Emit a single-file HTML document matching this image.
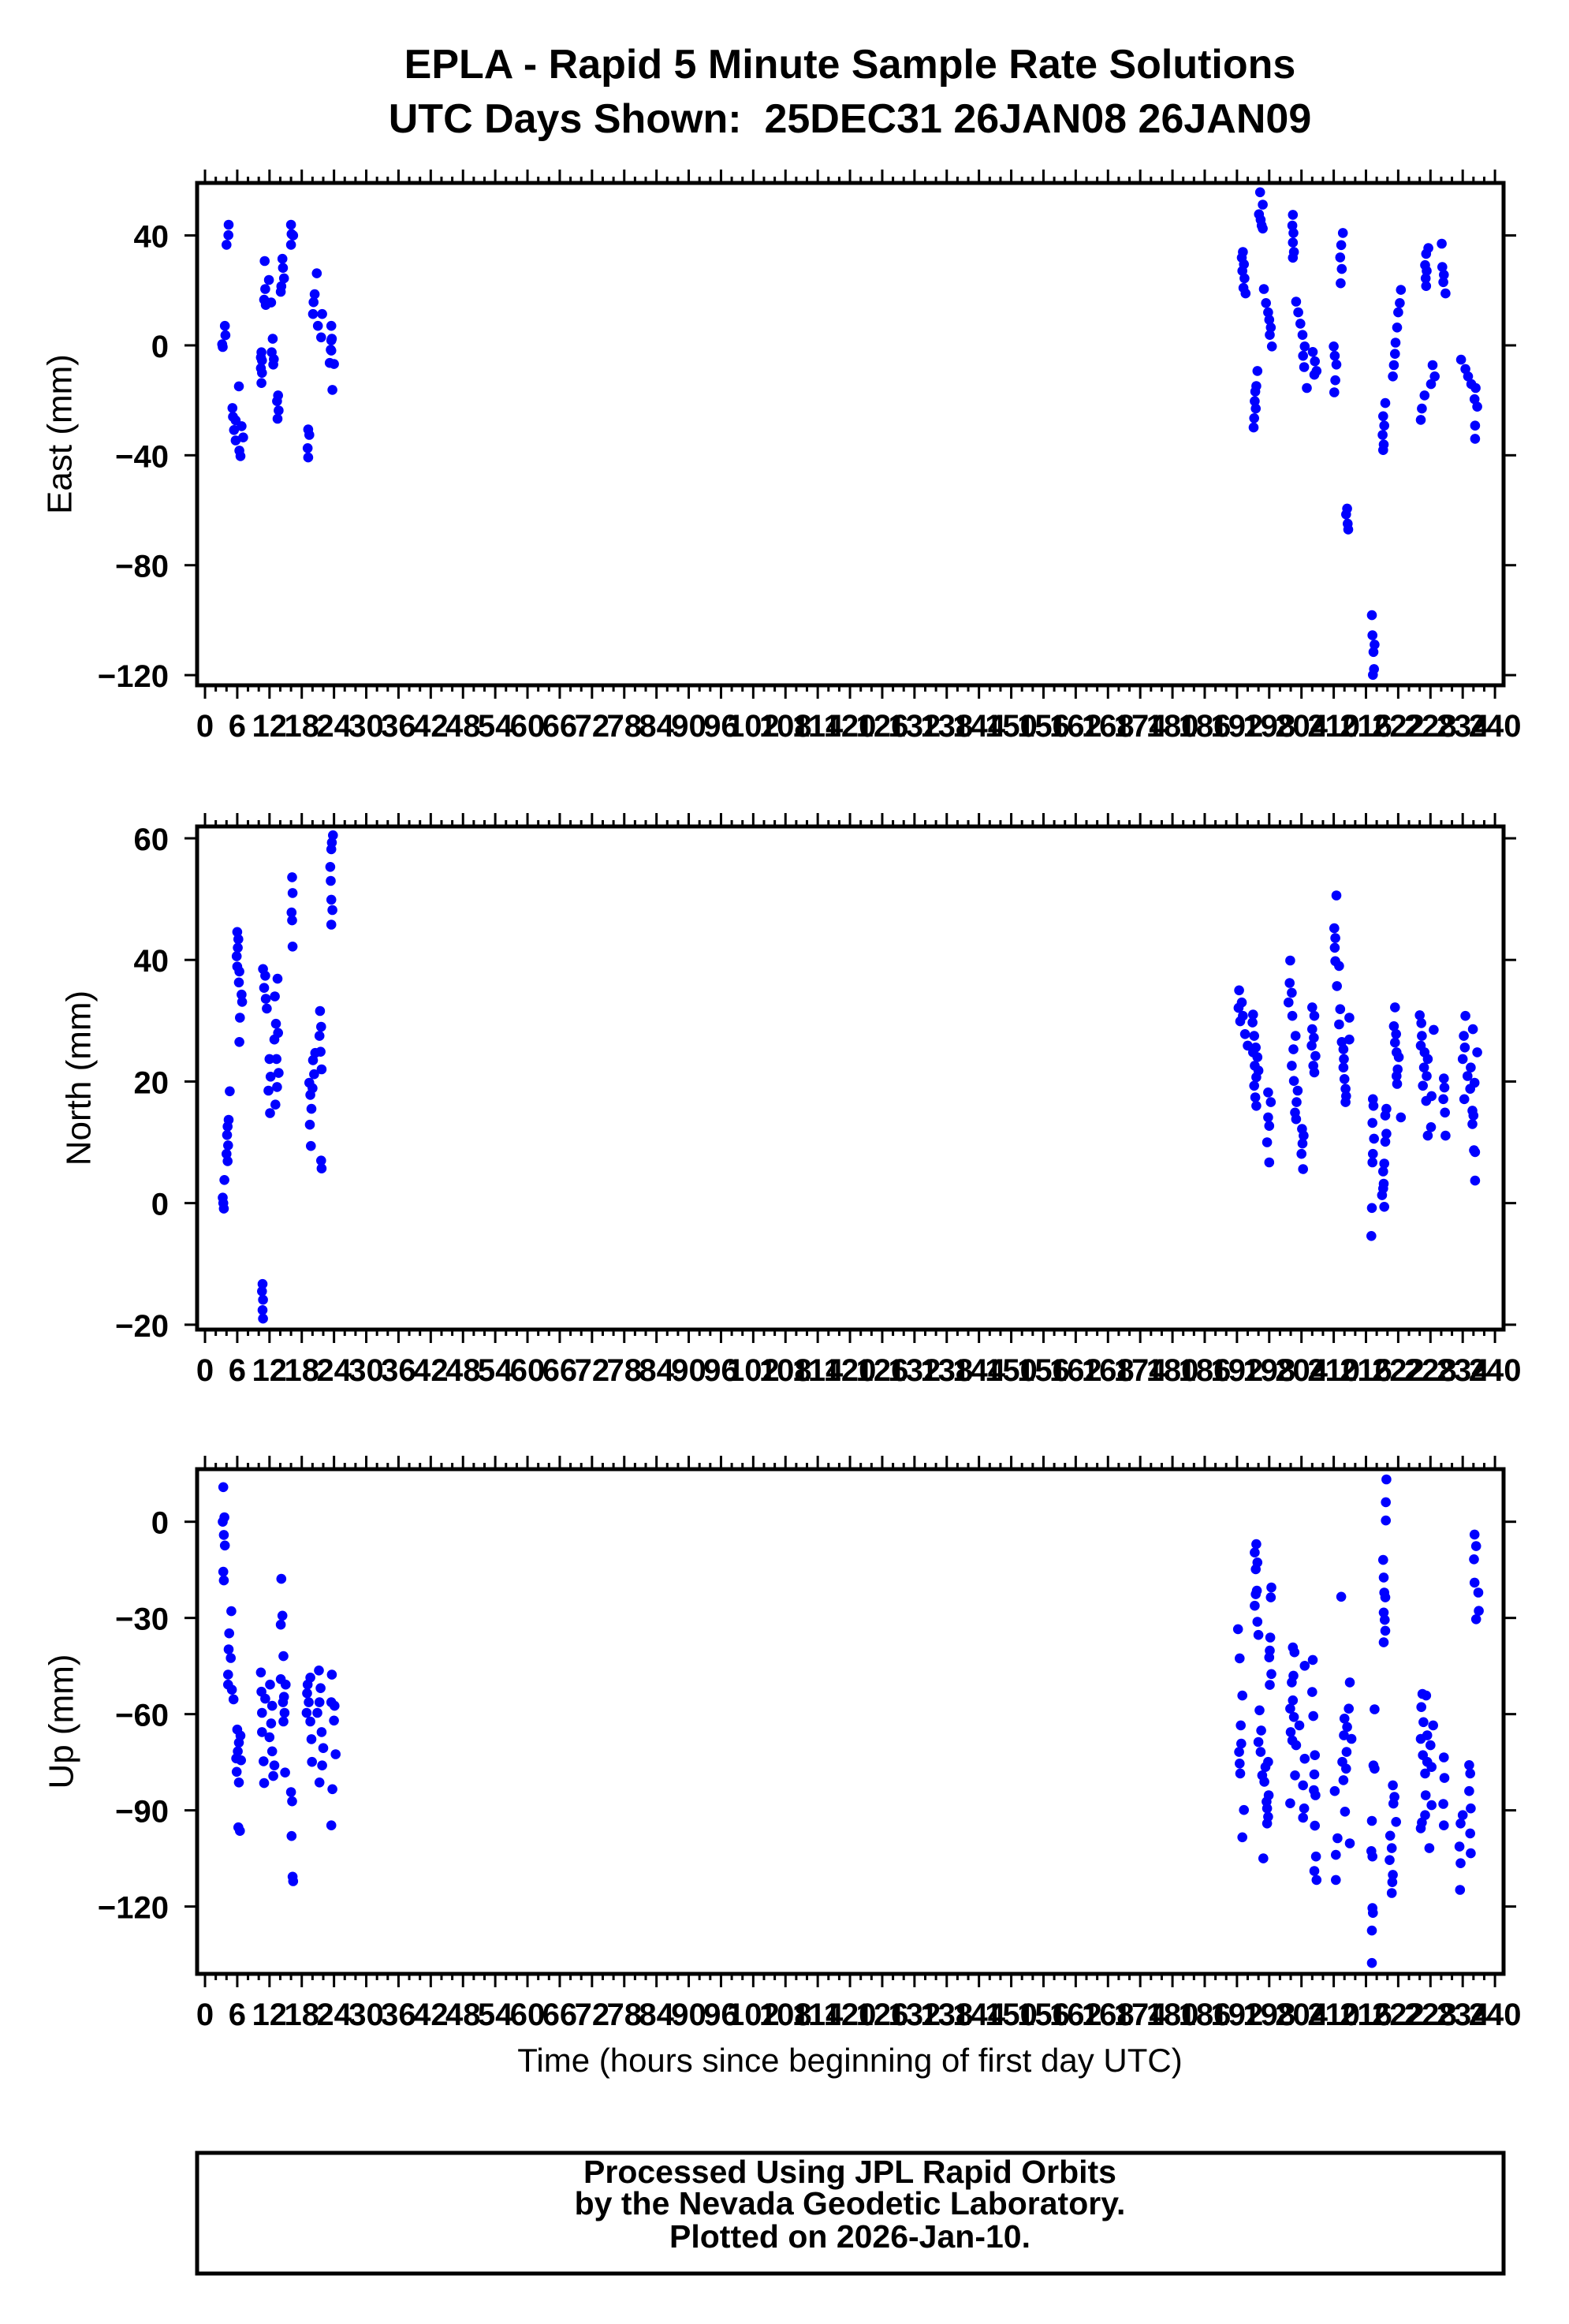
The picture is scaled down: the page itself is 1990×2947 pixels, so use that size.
<!DOCTYPE html>
<html><head><meta charset="utf-8"><title>EPLA Rapid 5 Minute Solutions</title>
<style>html,body{margin:0;padding:0;background:#fff}svg{display:block}text{font-family:"Liberation Sans",Arial,sans-serif}</style>
</head><body>
<svg id="chart" width="1990" height="2947" viewBox="0 0 1990 2947" xmlns="http://www.w3.org/2000/svg">
<rect width="1990" height="2947" fill="#fff"/>
<text x="1078" y="99" font-size="52" font-weight="bold" text-anchor="middle">EPLA - Rapid 5 Minute Sample Rate Solutions</text>
<text x="1078" y="168" font-size="52" font-weight="bold" text-anchor="middle" xml:space="preserve">UTC Days Shown:  25DEC31 26JAN08 26JAN09</text>
<text x="1078" y="2627" font-size="42" text-anchor="middle">Time (hours since beginning of first day UTC)</text>
<rect x="250" y="2730" width="1657" height="153" fill="none" stroke="#000" stroke-width="5"/>
<text x="1078" y="2768" font-size="41" font-weight="bold" text-anchor="middle">Processed Using JPL Rapid Orbits</text>
<text x="1078" y="2808" font-size="41" font-weight="bold" text-anchor="middle">by the Nevada Geodetic Laboratory.</text>
<text x="1078" y="2850" font-size="41" font-weight="bold" text-anchor="middle">Plotted on 2026-Jan-10.</text>
</svg>
<script>
// ---------- DATA ----------
const eastHours = [
4.4,4.35,4.0,3.7,3.8,3.3,3.2,
11.1,11.9,11.2,11.0,11.3,12.3,
14.4,14.5,14.7,14.1,14.2,
16.0,16.1,16.4,16.0,
20.8,20.4,20.2,20.1,21.8,21.0,21.6,23.5,23.6,23.5,24.0,
10.5,10.6,10.4,12.6,12.4,12.7,
6.3,5.1,5.2,5.7,5.4,6.8,7.1,5.7,6.4,6.6,
10.5,10.6,10.4,12.8,
13.6,13.4,13.7,13.5,
19.2,19.4,19.1,19.2,
23.7,23.2,23.4,23.5,
193.1,192.9,193.3,193.0,193.4,193.2,193.6,
196.3,196.8,196.1,196.4,196.6,196.8,
195.8,195.6,195.4,195.3,195.5,195.2,195.1,
197.0,197.4,197.8,198.0,198.3,198.1,198.5,
202.4,202.3,202.5,202.4,202.6,202.4,
203.0,203.4,203.8,204.2,204.6,204.3,204.5,205.0,
206.1,206.5,206.8,206.4,
210.0,210.2,210.5,210.3,210.1,
211.7,211.4,211.2,211.5,211.3,
212.5,212.3,212.6,212.7,
217.1,217.2,217.6,217.4,217.5,217.3,
219.6,219.2,219.4,219.1,219.3,219.2,
222.5,222.3,222.0,221.8,221.5,221.4,221.2,221.0,
226.9,226.4,226.2,
227.6,227.2,227.0,227.3,227.1,227.2,
228.4,228.8,228.1,
230.1,230.2,230.5,230.4,230.8,
233.7,234.5,235.0,235.6,236.4,236.2,236.7,236.3,236.3];
const eastValues = [
43.9,40.1,36.6,7.1,3.7,-0.6,0.4,
30.7,23.8,20.5,16.6,14.7,15.6,
31.5,28.2,24.4,19.5,21.5,
43.9,40.5,40,36.6,
26.2,18.6,15.7,11.4,11.4,7.1,2.9,7.1,2.4,-1.9,-6.8,
-2.5,-5.5,-8.3,2.4,-2.5,-7,
-14.9,-22.8,-26,-27.3,-30.8,-29.4,-33.5,-34.6,-38.3,-40.3,
-13.7,-10,-4.4,-5,
-18.2,-20.3,-23.7,-26.7,
-30.6,-32.6,-37.4,-40.8,
-16.2,-6.4,-1.6,1.8,
34,31.9,29.5,27.1,24.4,20.9,18.9,
55.7,51.2,47.7,45.7,43.6,42.5,
-9.3,-14.8,-16.8,-20.3,-23,-26.5,-29.9,
20.5,15.4,12,9.3,6.5,3.8,-0.4,
47.5,43.6,40.9,37.4,34,31.9,
15.9,12,7.9,3.8,-0.4,-3.8,-7.9,-15.5,
-2.4,-5.8,-9.3,-10.7,
-0.4,-3.8,-7,-12.7,-17.1,
40.9,36.5,32,27.8,22.6,
-59.4,-61.5,-64.9,-67,
-98.2,-105.5,-108.9,-111.6,-117.8,-119.9,
-21,-25.8,-29.2,-32.6,-36.1,-38.1,
20.2,15.4,12,6.5,1,-3.1,-7.2,-11.3,
-18.2,-23,-27.1,
35.4,33.3,29.2,27.1,24.4,21.6,
-7.2,-11.3,-14.1,
37,28.5,25.7,23,18.9,
-5.2,-8.6,-11.3,-14.1,-15.5,-19.6,-22.3,-29.2,-34];

const northHours = [
3.4,3.5,3.3,3.6,
4.2,4.0,4.3,4.1,4.2,4.4,4.6,
6.0,6.2,6.1,5.9,6.0,6.4,6.3,6.8,6.9,6.5,6.4,
10.7,10.6,10.8,10.7,10.8,
10.8,11.2,11.0,11.3,11.5,
12.0,12.2,11.8,12.1,
13.5,13.0,13.2,13.6,12.9,13.3,13.7,13.4,13.1,
16.2,16.3,16.1,16.2,16.3,
19.4,19.6,19.8,19.5,19.7,20.0,20.3,20.1,20.5,
21.4,21.6,21.3,21.5,21.7,21.6,21.7,
23.8,23.6,23.5,23.3,23.4,23.5,23.7,23.5,
192.4,192.9,192.3,193.1,192.6,193.5,194.0,
195.0,194.9,195.2,195.5,195.0,195.8,195.3,196.0,195.6,195.2,195.4,195.6,197.8,198.3,197.8,198.0,197.6,198.0,
201.9,201.8,202.2,201.6,202.3,202.9,202.5,202.2,202.6,203.3,203.1,202.8,203.0,
204.1,204.4,204.2,204.0,204.3,
206.0,206.4,206.0,206.3,205.9,206.6,206.2,206.4,
210.5,210.1,210.3,210.2,210.3,211.0,210.6,
211.2,212.9,211.0,212.9,211.5,211.8,211.9,211.8,212.0,212.2,212.3,212.2,
217.3,217.4,217.2,217.5,217.3,217.2,217.1,217.0,
219.8,219.6,219.8,219.6,219.4,219.2,219.3,219.2,219.0,219.4,
221.4,221.2,221.6,221.4,221.7,222.1,221.9,221.7,221.8,222.5,
226.0,226.3,228.6,226.4,226.2,226.9,227.5,226.8,227.3,226.6,228.2,227.2,228.1,227.5,
230.5,230.6,230.4,230.7,230.8,
234.5,235.9,234.2,234.4,236.7,234.0,235.5,234.9,236.2,235.4,234.3,235.8,236.0,235.8,236.1,236.3,236.3];
const northValues = [
0,-0.9,0.9,3.8,
6.9,8.1,9.5,11.2,12.6,13.7,18.4,
44.6,43.4,42,40.6,38.9,38.1,36.3,34.3,33.1,30.5,26.5,
-13.3,-14.5,-15.9,-17.6,-19,
38.5,37.4,35.4,33.6,32,
23.7,20.8,18.5,14.8,
36.9,34,29.5,28,26.9,23.7,21.4,19.1,16.2,
53.6,51,47.8,46.5,42.2,
19.8,17.8,15.5,12.9,9.4,18.9,21.2,23.5,24.7,
31.6,29,27.5,24.9,22,7,5.7,
60.5,59.3,58.2,55.3,53,49.9,48.2,45.8,
35,33,32.1,30.8,29.9,27.8,25.9,
31,29.7,27.5,25.6,24.8,24,22.6,21.8,20.7,19.3,17.4,16,18.2,16.6,14.1,12.7,10,6.7,
39.9,36.2,34.6,33,30.8,27.5,25.3,22.6,20.1,18.5,16.6,14.9,13.8,
12.2,11.1,9.8,8.1,5.6,
32.2,30.8,28.6,27.2,25.9,24.2,22.6,21.5,
50.6,45.2,43.6,42,39.8,39,35.7,
31.9,30.5,29.4,26.9,26.5,25.3,23.7,22.3,20.4,18.8,17.6,16.6,
17.1,16,13.2,10.6,8.1,6.7,-0.8,-5.4,
15.5,14.4,11.4,10.1,6.5,5.2,3.2,2.4,1.3,-0.6,
32.2,29.1,27.8,26.4,24.8,24,22,20.9,19.6,14.1,
30.9,29.6,28.5,27.5,25.9,24.8,23.7,22.3,20.9,19.3,17.6,16.8,12.5,11.1,
20.5,19,17.1,14.9,11.1,
30.8,28.6,27.5,25.6,24.8,23.7,22.3,20.9,19.8,18.8,17.1,15.2,14.4,13,8.7,8.4,3.7];

const upHours = [
3.4,3.6,3.3,3.5,3.7,3.4,3.5,
4.9,4.5,4.4,4.8,4.3,4.3,5.0,5.3,
6.0,6.6,6.3,6.1,5.8,6.7,5.9,6.3,6.2,6.5,
10.4,10.5,11.2,10.6,10.6,10.9,11.0,
12.1,12.5,12.3,12.0,12.5,12.9,12.7,
14.2,14.4,14.1,14.6,14.1,15.0,14.7,14.5,14.8,14.6,14.9,
16.0,16.2,16.1,16.3,16.4,
19.6,19.1,19.0,19.3,18.9,19.6,19.8,19.9,
21.2,21.5,21.3,20.9,21.7,22.0,21.8,21.3,
23.6,23.5,24.1,24.0,24.3,23.7,23.5,
195.6,195.3,195.8,195.5,195.7,195.5,195.3,195.8,196.0,
192.2,192.5,193.0,192.7,192.8,192.4,192.5,192.6,193.3,193.0,
198.4,198.3,198.2,198.1,198.0,198.4,198.1,196.2,196.5,196.0,196.4,197.8,197.3,196.7,197.1,197.9,197.5,197.6,197.8,197.6,196.9,
202.4,202.7,204.6,202.5,202.2,202.4,201.9,202.6,203.6,202.0,202.3,203.0,204.6,202.8,204.3,201.9,204.5,204.3,
206.1,206.0,206.2,206.5,206.4,206.3,206.6,206.5,206.7,206.4,206.8,
211.4,213.0,212.8,212.0,212.5,211.9,213.3,212.4,211.6,212.3,211.8,210.2,212.1,210.7,213.0,210.4,210.4,
217.6,217.4,217.6,217.1,217.0,217.2,217.2,217.3,217.1,217.1,
219.8,219.7,219.7,219.2,219.3,219.4,219.6,219.3,219.5,219.6,219.3,
221.0,221.3,221.1,221.6,220.5,220.8,220.4,221.0,220.9,220.8,
226.5,227.2,226.3,226.7,228.5,227.4,226.2,228.0,226.6,227.4,228.2,227.0,227.1,228.2,227.0,226.4,226.2,227.8,
230.5,230.6,230.4,230.5,
235.2,235.4,235.2,235.5,234.0,233.6,235.4,233.4,235.5,233.6,233.5,
236.2,236.5,236.1,236.2,236.9,237.0,236.5];
const upValues = [
10.8,1.4,0,-4.1,-7.4,-15.6,-18.3,
-27.9,-34.8,-39.8,-42.5,-47.7,-50.8,-52.4,-55.4,
-64.8,-66.7,-68.9,-71.6,-73.8,-74.4,-78,-81.3,-95.3,-96.4,
-47,-53,-55.2,-59.6,-65.6,-74.7,-81.5,
-50.8,-57.4,-62.9,-67.2,-71.6,-76,-79.3,
-17.8,-29.3,-32.1,-41.9,-49.1,-50.8,-54.6,-56.3,-59.6,-62.3,-78.2,
-84.3,-87.2,-98,-110.7,-112.1,
-48.6,-50.8,-53.5,-56.3,-59.6,-62.3,-67.8,-74.9,
-46.4,-51.9,-56.3,-59.6,-65.6,-70.6,-76,-81.3,
-47.7,-56.3,-57.4,-62,-72.5,-83.4,-94.7,
-7,-9.6,-12.7,-14.8,-21.5,-22.6,-26.2,-31.2,-35.3,
-33.5,-42.6,-54.2,-63.5,-69.2,-71.8,-75.4,-78.5,-89.9,-98.4,
-20.5,-23.6,-36.1,-40.2,-42.3,-47.5,-50.9,-58.8,-65.1,-68.7,-71.8,-74.9,-76.5,-79.1,-81.1,-85.3,-87.3,-89.4,-92,-94.1,-105,
-39.2,-40.7,-44.9,-48,-50.1,-55.7,-58.3,-60.9,-63.5,-65.6,-68.2,-69.7,-73.9,-79.1,-82.2,-87.8,-89.4,-92.3,
-43.1,-53.1,-60.6,-72.8,-78.8,-83.7,-85.3,-94.8,-104.4,-108.9,-111.7,
-23.4,-50.1,-58.3,-61.4,-64,-66.6,-67.7,-71.8,-74.9,-77,-80.6,-84,-90.4,-98.7,-100.3,-103.9,-111.7,
-58.5,-76,-77,-93.3,-102.7,-104.4,-120.5,-122,-127.5,-137.6,
13.2,6.1,0.4,-11.9,-17.4,-22.1,-23.6,-28.3,-30.6,-34,-37.6,
-82.2,-85.8,-87.9,-93.6,-97.9,-101.8,-105.5,-110.1,-112.4,-115.8,
-53.7,-54.2,-57.8,-62.5,-63.5,-66.6,-67.7,-69.7,-72.8,-74.9,-76.5,-78.5,-85.3,-88.4,-91.5,-93.8,-95.6,-101.8,
-73.5,-79.9,-88,-94.7,
-75.9,-78.5,-84,-89.4,-91.5,-94.1,-97.2,-101.3,-103.4,-106.5,-114.8,
-4,-7.6,-11.7,-19,-22.1,-27.8,-30.4];

const eastTicks = [40, 0, -40, -80, -120];
const northTicks = [60, 40, 20, 0, -20];
const upTicks = [0, -30, -60, -90, -120];
const xMajorTicks = [];
for (let t = 0; t <= 240; t += 6) xMajorTicks.push(t);

// ---------- LAYOUT ----------
const NS = 'http://www.w3.org/2000/svg';
const svg = document.getElementById('chart');
const X0 = 250, X1 = 1907, HMIN = -1.47, HMAX = 241.6;
function xScale(h) { return X0 + (h - HMIN) / (HMAX - HMIN) * (X1 - X0); }
function mk(tag, attrs, parent) {
  const e = document.createElementNS(NS, tag);
  for (const k in attrs) e.setAttribute(k, attrs[k]);
  (parent || svg).appendChild(e);
  return e;
}
const panels = [
  {key:'east', title:'East (mm)', top:232, bottom:869, vmin:-123.7, vmax:59.1, ticks:eastTicks, hours:eastHours, values:eastValues, titleX:76},
  {key:'north', title:'North (mm)', top:1048, bottom:1686, vmin:-20.8, vmax:61.95, ticks:northTicks, hours:northHours, values:northValues, titleX:100},
  {key:'up', title:'Up (mm)', top:1863, bottom:2503, vmin:-141.0, vmax:16.4, ticks:upTicks, hours:upHours, values:upValues, titleX:78}
];
panels.forEach(p => {
  const g = mk('g', {});
  
  
  const yScale = v => p.bottom - (v - p.vmin) / (p.vmax - p.vmin) * (p.bottom - p.top);
  const pg = mk('g', {fill:'#0000ff'}, g);
  
  
  for (let i = 0; i < p.hours.length; i++) {
    const c = mk('circle', {cx:xScale(p.hours[i]).toFixed(1), cy:yScale(p.values[i]).toFixed(1), r:6.3}, pg);
    
    
  }
  const tg = mk('g', {stroke:'#000', 'stroke-width':3}, g);
  
  
  for (let t = 0; t <= 240; t += 2) {
    const len = (t % 6 === 0) ? 17 : 8;
    const x = xScale(t);
    mk('line', {x1:x, x2:x, y1:p.bottom, y2:p.bottom + len}, tg);
    mk('line', {x1:x, x2:x, y1:p.top, y2:p.top - len}, tg);
  }
  const lg = mk('g', {}, g);
  
  
  xMajorTicks.forEach(t => {
    const tx = mk('text', {x:xScale(t), y:p.bottom + 65, 'font-size':40, 'font-weight':'bold', 'text-anchor':'middle'}, lg);
    
    
    tx.textContent = t;
  });
  p.ticks.forEach(v => {
    const y = yScale(v);
    mk('line', {x1:X0 - 16, x2:X0, y1:y, y2:y, stroke:'#000', 'stroke-width':3}, g);
    mk('line', {x1:X1, x2:X1 + 16, y1:y, y2:y, stroke:'#000', 'stroke-width':3}, g);
    const tx = mk('text', {x:214, y:y + 15, 'font-size':40, 'font-weight':'bold', 'text-anchor':'end'}, g);
    
    
    tx.textContent = (v < 0 ? '\u2212' + Math.abs(v) : String(v));
  });
  const fr = mk('rect', {x:X0, y:p.top, width:X1 - X0, height:p.bottom - p.top, fill:'none', stroke:'#000', 'stroke-width':5}, g);
  
  
  const cy = (p.top + p.bottom) / 2;
  const at = mk('text', {x:p.titleX, y:cy, 'font-size':44, 'text-anchor':'middle', 'dominant-baseline':'central', transform:'rotate(-90 ' + p.titleX + ' ' + cy + ')'}, g);
  
  
  at.textContent = p.title;
});
</script>
</body></html>
